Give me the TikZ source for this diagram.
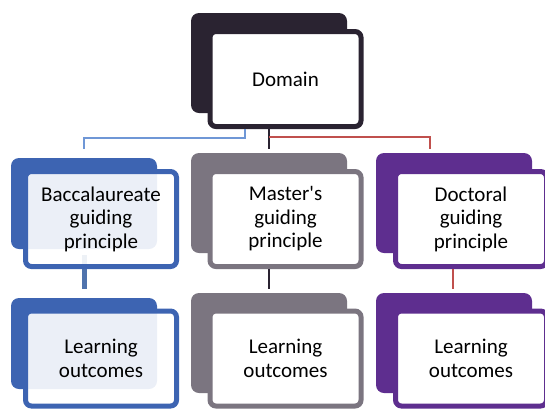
\documentclass[tikz,border=0pt]{standalone}
\usepackage{fontspec}
\setmainfont{Carlito}[Ligatures=TeXOff]
\definecolor{cdom}{HTML}{2A2331}
\definecolor{cblue}{HTML}{3D64B2}
\definecolor{cgrey}{HTML}{7B7580}
\definecolor{cpurple}{HTML}{5E2E8F}
\definecolor{clight}{HTML}{6F97D6}
\definecolor{cred}{HTML}{C0504D}
\definecolor{cmid}{HTML}{4F73AD}
\tikzset{
  backbox/.style={draw=none, fill=#1, rounded corners=8pt, minimum width=156pt, minimum height=100pt, inner sep=0pt},
  smallback/.style={draw=none, fill=#1, rounded corners=8pt, minimum width=146pt, minimum height=91pt, inner sep=0pt},
  frontbox/.style={draw=#1, line width=5pt, fill=white, rounded corners=6pt, minimum width=151pt, minimum height=95pt, inner sep=0pt, align=center, font=\fontsize{21}{23.5}\selectfont},
  thinline/.style={draw=#1, line width=2pt},
}
\begin{document}
\begin{tikzpicture}[x=1pt,y=-1pt]
\useasboundingbox (0,0) rectangle (545,408);
\clip (0,0) rectangle (545,408);
% back plates
\node[backbox=cdom] (domb) at (269,63) {};
\node[smallback=cblue] (bacb) at (84,203.5) {};
\node[backbox=cgrey] (masb) at (269,203) {};
\node[backbox=cpurple] (docb) at (454,203) {};
\node[smallback=cblue] (lob1) at (84,343.5) {};
\node[backbox=cgrey] (lob2) at (269,343) {};
\node[backbox=cpurple] (lob3) at (454,343) {};
% connector coordinates
\coordinate (b1) at (245,138);
\coordinate (b2) at (84,138);
\coordinate (b3) at (84,149);
\coordinate (m1) at (269,149);
\coordinate (r0) at (269,137);
\coordinate (r1) at (430,137);
\coordinate (r2) at (430,149);
\coordinate (bv1) at (84,255);
\coordinate (bv2) at (84,289);
\coordinate (mv2) at (269,289);
\coordinate (dv2) at (453,289);
% bacc thick connector (under the translucent box)
\draw[draw=cmid, line width=5pt] (bv1) -- (bv2);
% front boxes
\node[frontbox=cdom] (dom) at (285.5,79) {Domain};
\node[frontbox=cblue, fill opacity=0.9, text opacity=1] (bac) at (101,219) {Baccalaureate\\guiding\\principle};
\node[frontbox=cgrey] (mas) at (285.5,219) {Master's\\guiding\\principle};
\node[frontbox=cpurple] (doc) at (471,219) {Doctoral\\guiding\\principle};
\node[frontbox=cblue, fill opacity=0.9, text opacity=1] (lo1) at (101,358.5) {Learning\\outcomes};
\node[frontbox=cgrey] (lo2) at (285.5,358.5) {Learning\\outcomes};
\node[frontbox=cpurple] (lo3) at (471,358.5) {Learning\\outcomes};
% connectors
\draw[draw=clight, line width=1.5pt] (dom.south -| b1) -- (b1) -- (b2) -- (b3);
\draw[thinline=cdom] (dom.south -| m1) -- (m1);
\draw[thinline=cred] (r0) -- (r1) -- (r2);
\draw[thinline=cdom] (mas.south -| mv2) -- (mv2);
\draw[thinline=cred] (doc.south -| dv2) -- (dv2);
\end{tikzpicture}
\end{document}
